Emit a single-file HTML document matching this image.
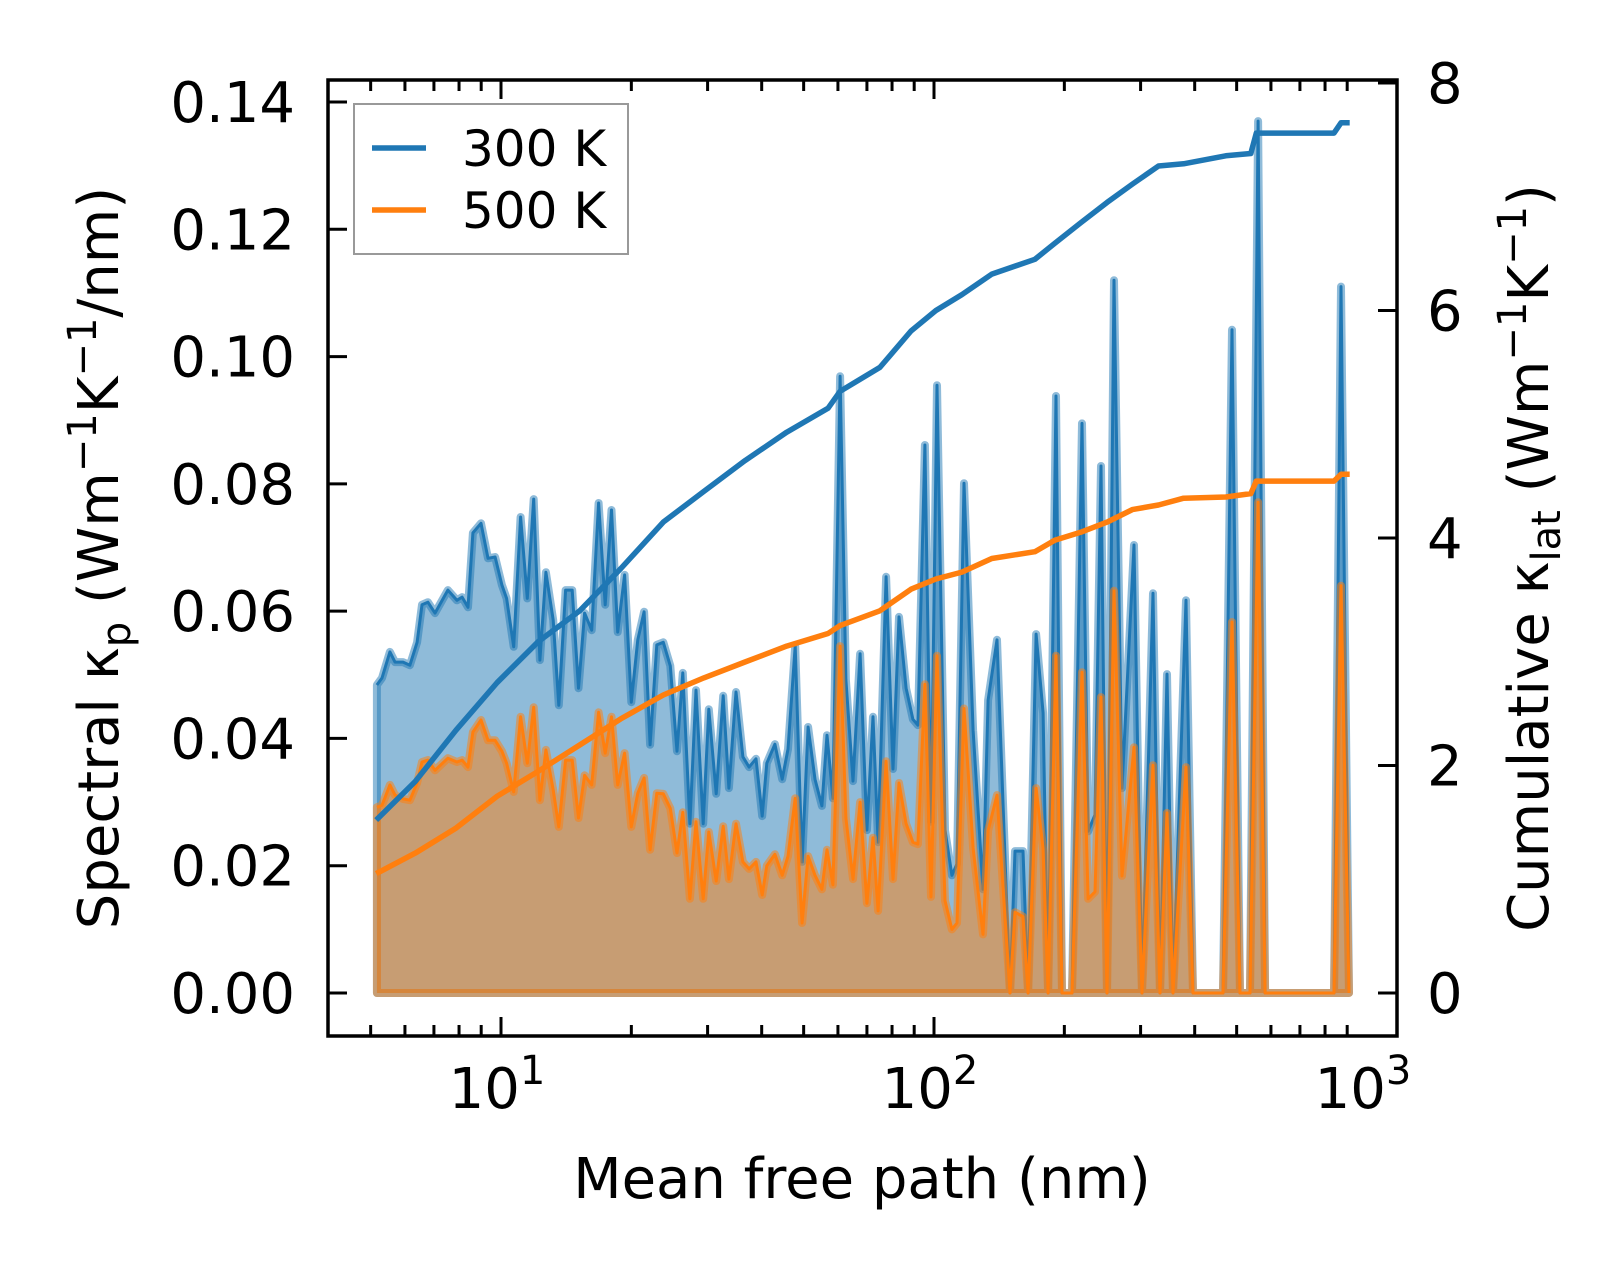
<!DOCTYPE html>
<html><head><meta charset="utf-8">
<style>
html,body{margin:0;padding:0;background:#fff;}
svg{display:block;font-family:"DejaVu Sans","Liberation Sans",sans-serif;}
</style></head>
<body>
<svg id="chart" width="1623" height="1274" viewBox="0 0 1623 1274" xmlns="http://www.w3.org/2000/svg">
<g id="plot"></g>
</svg>
<script>
// ---- data ----
const mfp = [5.17,5.31,5.54,5.69,5.94,6.16,6.40,6.57,6.78,7.04,7.54,7.91,8.13,8.39,8.61,8.99,9.33,9.69,10.05,10.3,10.7,11.1,11.5,11.9,12.3,12.7,13.2,13.6,14.1,14.6,15.1,15.6,16.2,16.8,17.4,18.0,18.6,19.3,20.0,20.7,21.4,22.1,22.9,23.7,24.6,25.5,26.3,27.3,28.2,29.3,30.2,31.4,32.6,33.6,34.9,36.2,37.4,38.8,40.1,41.1,42.9,44.6,46.0,47.8,49.6,51.2,53.1,55.1,56.6,58.4,60.7,62.6,65.0,67.5,70.0,72.3,74.3,77.5,80.4,83.0,86.2,89.4,91.8,95.3,98.4,101.6,106.0,110.0,113.0,117.3,123.1,129.8,133.3,139.8,149.8,153.8,160.5,164.9,172.1,178.6,183.4,191.3,197.5,208.3,219.7,226.9,235.4,243.0,250.9,260.4,271.8,289.7,302.3,320.5,332.6,345.2,356.5,381.9,396.4,465.0,487.7,508.9,536.9,560.3,581.5,839.1,871.0,908.7];
const k300 = [0.0484,0.0495,0.0536,0.052,0.052,0.0515,0.0551,0.061,0.0614,0.0597,0.0633,0.0617,0.0622,0.0606,0.0723,0.0738,0.0683,0.0685,0.0641,0.062,0.0544,0.0748,0.062,0.0776,0.0523,0.0661,0.0586,0.0452,0.0633,0.0633,0.0479,0.0597,0.057,0.077,0.061,0.0759,0.0567,0.0657,0.0457,0.0555,0.0599,0.039,0.0547,0.0551,0.0514,0.038,0.0503,0.0266,0.0476,0.0266,0.0446,0.0313,0.0467,0.0322,0.0473,0.0371,0.0355,0.0368,0.0278,0.0361,0.0391,0.0336,0.0383,0.0545,0.0206,0.0418,0.0336,0.0294,0.0405,0.0306,0.0969,0.0492,0.0333,0.0533,0.0256,0.0434,0.0237,0.0654,0.0352,0.0591,0.0479,0.043,0.0421,0.0861,0.0269,0.0955,0.0256,0.0185,0.0203,0.0801,0.0413,0.0163,0.046,0.0555,0,0.0223,0.0223,0,0.0564,0.044,0,0.0938,0,0,0.0895,0.0254,0.028,0.0828,0,0.112,0.0322,0.0704,0,0.0628,0,0.0501,0,0.0617,0,0,0.1042,0,0,0.137,0,0,0.111,0];
const k500 = [0.0292,0.0295,0.0327,0.0311,0.0305,0.0303,0.033,0.0363,0.0366,0.035,0.0369,0.0363,0.0366,0.0355,0.041,0.0429,0.0397,0.0397,0.038,0.0361,0.0316,0.0434,0.0361,0.0449,0.0303,0.0382,0.0319,0.0261,0.0366,0.0366,0.0275,0.0342,0.0327,0.0441,0.0377,0.0434,0.0327,0.0377,0.0261,0.0314,0.0338,0.0225,0.0314,0.0313,0.029,0.022,0.0284,0.0148,0.0269,0.0148,0.0253,0.0176,0.0262,0.0179,0.0266,0.0206,0.0195,0.0206,0.0154,0.02,0.0218,0.0185,0.0215,0.0306,0.011,0.0215,0.0185,0.0163,0.0225,0.017,0.0545,0.0275,0.0179,0.03,0.0141,0.0244,0.0129,0.0364,0.0179,0.033,0.0266,0.0237,0.0234,0.0485,0.0151,0.053,0.0145,0.01,0.011,0.0447,0.0228,0.0092,0.0255,0.0311,0,0.0127,0.012,0,0.0322,0.0226,0,0.053,0,0,0.0504,0.0148,0.0159,0.0465,0,0.0632,0.0184,0.0386,0,0.0358,0,0.0283,0,0.0355,0,0,0.0583,0,0,0.0771,0,0,0.064,0];
const cumMfp = [5.15,6.34,7.87,9.8,12.2,15.2,18.9,23.7,29.4,36.6,45.7,56.9,60.7,75.0,88.5,101,116,136,171,190,218,251,287,330,377,472,539,555,839,871,912];
const cum300 = [1.52,1.86,2.31,2.73,3.09,3.36,3.73,4.14,4.41,4.68,4.93,5.14,5.29,5.5,5.82,6.0,6.14,6.32,6.45,6.59,6.77,6.95,7.11,7.27,7.29,7.36,7.38,7.56,7.56,7.65,7.65];
const cum500 = [1.05,1.23,1.45,1.73,1.95,2.18,2.41,2.62,2.77,2.91,3.05,3.16,3.23,3.36,3.55,3.64,3.7,3.82,3.88,3.98,4.05,4.14,4.25,4.29,4.35,4.36,4.39,4.5,4.5,4.56,4.56];
const leftTicks = [0,0.02,0.04,0.06,0.08,0.10,0.12,0.14];
const rightTicks = [0,2,4,6,8];
const xMajor = [10,100,1000];

// ---- axes geometry ----
const L=328,R=1397,T=80,B=1036;
const X = m => 501 + 433*(Math.log10(m)-1);
const YL = k => 993 - k*(891/0.14);
const YR = v => 993 - v*113.75;
const NS="http://www.w3.org/2000/svg";
const plot=document.getElementById('plot');
function mk(tag,attrs,parent){const e=document.createElementNS(NS,tag);for(const a in attrs)e.setAttribute(a,attrs[a]);(parent||plot).appendChild(e);return e;}

function areaPath(vals){
  let d=`M${X(mfp[0])},${YL(0)}`;
  mfp.forEach((m,i)=>{d+=` L${X(m).toFixed(1)},${YL(vals[i]).toFixed(1)}`;});
  d+=` L${X(mfp[mfp.length-1])},${YL(0)} Z`;
  return d;
}
function linePts(xs,ys,fy){return xs.map((m,i)=>X(m).toFixed(1)+','+fy(ys[i]).toFixed(1)).join(' ');}

// fills
const f1=mk('path',{d:areaPath(k300),fill:'#1f77b4','fill-opacity':0.5,stroke:'#1f77b4','stroke-opacity':0.5,'stroke-width':8,'stroke-linejoin':'round'});


const l1=mk('polyline',{points:linePts(mfp,k300,YL),fill:'none',stroke:'#1f77b4','stroke-width':3,'stroke-linejoin':'round'});


const f2=mk('path',{d:areaPath(k500),fill:'#ff7f0e','fill-opacity':0.5,stroke:'#ff7f0e','stroke-opacity':0.5,'stroke-width':8,'stroke-linejoin':'round'});


const l2=mk('polyline',{points:linePts(mfp,k500,YL),fill:'none',stroke:'#ff7f0e','stroke-width':3,'stroke-linejoin':'round'});



// cumulative
const c1=mk('polyline',{points:linePts(cumMfp,cum300,YR),fill:'none',stroke:'#1f77b4','stroke-width':5.5,'stroke-linejoin':'round'});


const c2=mk('polyline',{points:linePts(cumMfp,cum500,YR),fill:'none',stroke:'#ff7f0e','stroke-width':5.5,'stroke-linejoin':'round'});



// frame
const fr=mk('rect',{x:L,y:T,width:R-L,height:B-T,fill:'none',stroke:'#000','stroke-width':3.5});



// x ticks
const xt=mk('g',{stroke:'#000','stroke-width':3});


[1,10,100].forEach(dec=>{for(let j=1;j<=9;j++){const m=dec*j;const x=X(m);if(x<L+4||x>R-4)continue;const len=(j===1)?19:11;
  mk('line',{x1:x,y1:B,x2:x,y2:B-len},xt);mk('line',{x1:x,y1:T,x2:x,y2:T+len},xt);}});
const xl=mk('g',{'font-size':56,'text-anchor':'middle',fill:'#000'});


xMajor.forEach(m=>{const t=mk('text',{x:X(m)-4,y:1108},xl);
  t.textContent='10';const s=document.createElementNS(NS,'tspan');s.setAttribute('dy','-24');s.setAttribute('font-size','40');s.textContent=String(Math.round(Math.log10(m)));t.appendChild(s);});

// left ticks
const ytl=mk('g',{stroke:'#000','stroke-width':3});


const yll=mk('g',{'font-size':56,'text-anchor':'end',fill:'#000'});


leftTicks.forEach(k=>{const y=YL(k);mk('line',{x1:L,y1:y,x2:L+19,y2:y},ytl);
  const t=mk('text',{x:295,y:y+20},yll);t.textContent=k.toFixed(2);});
// right ticks
const ytr=mk('g',{stroke:'#000','stroke-width':3});


const yrl=mk('g',{'font-size':56,'text-anchor':'start',fill:'#000'});


rightTicks.forEach(v=>{const y=YR(v);mk('line',{x1:R,y1:y,x2:R-19,y2:y},ytr);
  const t=mk('text',{x:1427,y:y+20},yrl);t.textContent=String(v);});
</script>
<script>
(function(){
const NS="http://www.w3.org/2000/svg";
const svg=document.getElementById('chart');
const g=document.createElementNS(NS,'g');
svg.appendChild(g);
g.innerHTML=`
<text x="862" y="1198" font-size="56" text-anchor="middle">Mean free path (nm)</text>
<text transform="translate(118,558) rotate(-90)" font-size="56" text-anchor="middle">Spectral κ<tspan font-size="40" dy="12">p</tspan><tspan dy="-12"> (Wm</tspan><tspan font-size="40" dy="-22">−1</tspan><tspan dy="22">K</tspan><tspan font-size="40" dy="-22">−1</tspan><tspan dy="22">/nm)</tspan></text>
<text transform="translate(1548,558) rotate(-90)" font-size="56" text-anchor="middle">Cumulative κ<tspan font-size="40" dy="12">lat</tspan><tspan dy="-12"> (Wm</tspan><tspan font-size="40" dy="-22">−1</tspan><tspan dy="22">K</tspan><tspan font-size="40" dy="-22">−1</tspan><tspan dy="22">)</tspan></text>
<g>
<rect x="354" y="104" width="274" height="150" fill="#fff" fill-opacity="0.8" stroke="#999" stroke-width="2"/>
<line x1="372" y1="148" x2="426" y2="148" stroke="#1f77b4" stroke-width="5.5"/>
<text x="462" y="166" font-size="50">300 K</text>
<line x1="372" y1="210" x2="426" y2="210" stroke="#ff7f0e" stroke-width="5.5"/>
<text x="462" y="228" font-size="50">500 K</text>
</g>`;
})();
</script>
</body></html>
